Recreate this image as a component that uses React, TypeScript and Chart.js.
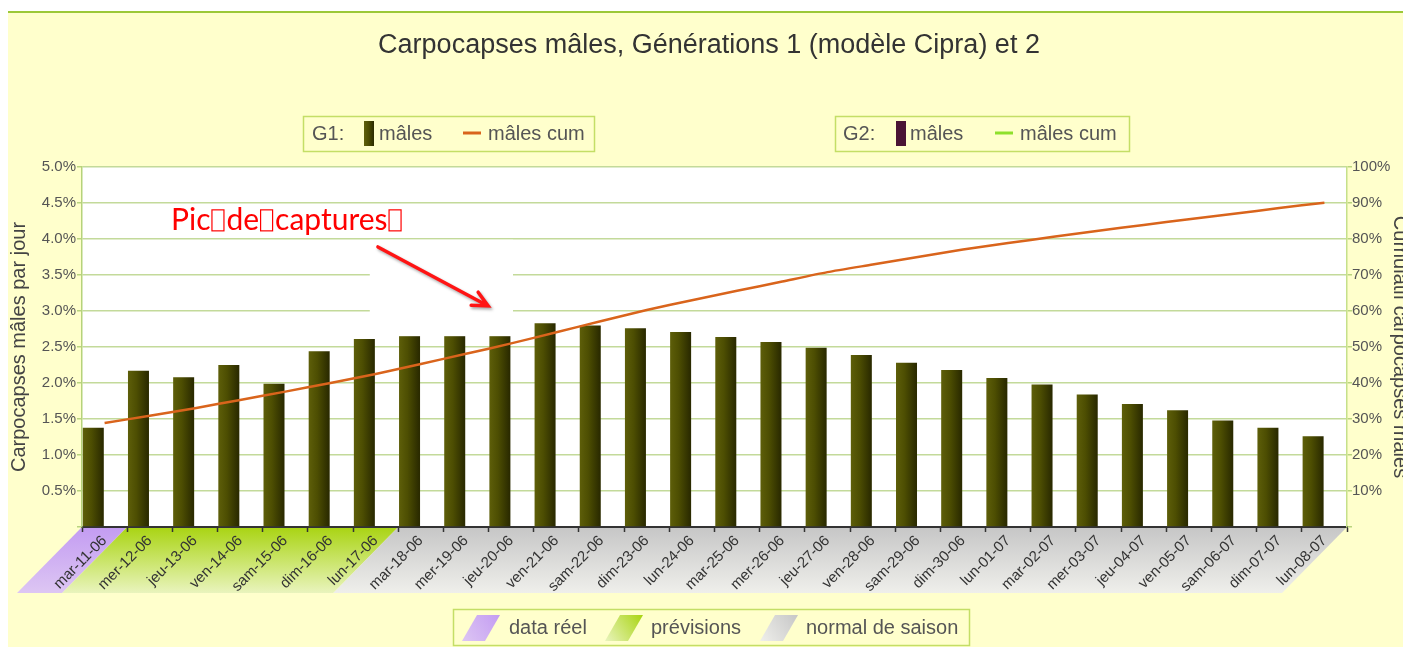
import React, { useEffect, useRef } from 'react';
import { Chart, registerables } from 'chart.js';

Chart.register(...registerables);

const categories = [
  'mar-11-06', 'mer-12-06', 'jeu-13-06', 'ven-14-06', 'sam-15-06', 'dim-16-06', 'lun-17-06',
  'mar-18-06', 'mer-19-06', 'jeu-20-06', 'ven-21-06', 'sam-22-06', 'dim-23-06', 'lun-24-06',
  'mar-25-06', 'mer-26-06', 'jeu-27-06', 'ven-28-06', 'sam-29-06', 'dim-30-06', 'lun-01-07',
  'mar-02-07', 'mer-03-07', 'jeu-04-07', 'ven-05-07', 'sam-06-07', 'dim-07-07', 'lun-08-07',
];

// G1 daily males (% per day)
const g1Males = [
  1.38, 2.17, 2.08, 2.25, 1.99, 2.44, 2.61, 2.70, 2.72, 2.75, 2.83, 2.80, 2.76, 2.71,
  2.64, 2.57, 2.49, 2.39, 2.28, 2.18, 2.07, 1.98, 1.84, 1.71, 1.62, 1.48, 1.38, 1.26,
];

// G1 cumulative males (%)
const g1Cum = [
  28.9, 30.9, 33.0, 35.3, 37.6, 40.0, 42.5, 45.3, 48.1, 51.0, 54.1, 57.2, 60.3, 63.0,
  65.6, 68.2, 70.8, 72.9, 75.0, 77.1, 78.9, 80.6, 82.3, 83.9, 85.5, 87.0, 88.6, 90.1,
];

// G2 has no values yet
const g2Males: (number | null)[] = [];
const g2Cum: (number | null)[] = [];

const leftTickStep = 0.5;
const rightTickStep = 10;

// Period bands under the x axis: label + first category index of each period
const periodLabels = ['data réel', 'prévisions', 'normal de saison'];
const periodStarts = [0, 1, 7];

const title = 'Carpocapses mâles, Générations 1 (modèle Cipra) et 2';
const leftAxisTitle = 'Carpocapses mâles par jour';
const rightAxisTitle = 'Cumulatif carpocapses mâles';

const FONT = '"Liberation Sans", Arial, sans-serif';

const periodColors = [
  ['#c39cf2', '#ddc6f3'],
  ['#a9d412', '#e9f4bd'],
  ['#c6c6c6', '#efefeb'],
];

function olive(ctx: CanvasRenderingContext2D, left: number, right: number) {
  const g = ctx.createLinearGradient(left, 0, right, 0);
  g.addColorStop(0, '#5f600a');
  g.addColorStop(0.45, '#4d4e02');
  g.addColorStop(1, '#2b2b00');
  return g;
}

const decorPlugin = {
  id: 'decor',
  beforeDraw(chart: any) {
    const { ctx, chartArea: ca, scales } = chart;
    const W = chart.width;
    const H = chart.height;
    ctx.save();
    ctx.fillStyle = '#ffffff';
    ctx.fillRect(0, 0, W, H);
    ctx.fillStyle = '#ffffcc';
    ctx.fillRect(8, 13, W - 8, H - 13);
    ctx.fillStyle = '#9cc838';
    ctx.fillRect(8, 11, W - 8, 2);
    ctx.fillStyle = '#ffffff';
    ctx.fillRect(ca.left, ca.top, ca.right - ca.left, ca.bottom - ca.top);

    // period band (slanted)
    const x = scales.x;
    const n = categories.length;
    const cw = (x.right - x.left) / n;
    const edge = (k: number) => x.getPixelForValue(k) - cw / 2;
    const top = ca.bottom;
    const bot = ca.bottom + 66;
    const shift = 65;
    for (let p = 0; p < periodStarts.length; p++) {
      const a = edge(periodStarts[p]);
      const b = p + 1 < periodStarts.length ? edge(periodStarts[p + 1]) : ca.right;
      const g = ctx.createLinearGradient(0, top, 0, bot);
      g.addColorStop(0, periodColors[p][0]);
      g.addColorStop(1, periodColors[p][1]);
      ctx.fillStyle = g;
      ctx.beginPath();
      ctx.moveTo(a, top);
      ctx.lineTo(b, top);
      ctx.lineTo(b - shift, bot);
      ctx.lineTo(a - shift, bot);
      ctx.closePath();
      ctx.fill();
    }
    ctx.restore();
  },
  afterDatasetsDraw(chart: any) {
    const { ctx, scales } = chart;
    const x = scales.x;
    const y = scales.y;
    ctx.save();
    // white mask box
    const bx0 = x.getPixelForValue(5.87);
    const bx1 = x.getPixelForValue(9.04);
    const by0 = y.getPixelForValue(3.99);
    const by1 = y.getPixelForValue(2.65);
    ctx.fillStyle = '#ffffff';
    ctx.fillRect(bx0, by0, bx1 - bx0, by1 - by0);

    // arrow
    const ax0 = x.getPixelForValue(6.05);
    const ay0 = y.getPixelForValue(3.89);
    const ax1 = x.getPixelForValue(8.49);
    const ay1 = y.getPixelForValue(3.07);
    ctx.shadowColor = 'rgba(0,0,0,0.35)';
    ctx.shadowBlur = 3;
    ctx.shadowOffsetX = 1.5;
    ctx.shadowOffsetY = 2;
    ctx.strokeStyle = '#ff1414';
    ctx.lineWidth = 3.5;
    ctx.lineCap = 'round';
    ctx.beginPath();
    ctx.moveTo(ax0, ay0);
    ctx.lineTo(ax1, ay1);
    const ang = Math.atan2(ay1 - ay0, ax1 - ax0);
    const hl = 17;
    ctx.moveTo(ax1 - hl * Math.cos(ang - 0.45), ay1 - hl * Math.sin(ang - 0.45));
    ctx.lineTo(ax1, ay1);
    ctx.lineTo(ax1 - hl * Math.cos(ang + 0.45), ay1 - hl * Math.sin(ang + 0.45));
    ctx.stroke();
    ctx.shadowColor = 'transparent';

    // annotation text
    const tx = x.getPixelForValue(1.47);
    const ty = y.getPixelForValue(4.12);
    ctx.font = '30px Lato, "Noto Sans", sans-serif';
    ctx.fillStyle = '#ff0000';
    ctx.strokeStyle = '#ff0000';
    ctx.lineWidth = 1.2;
    ctx.textBaseline = 'alphabetic';
    ctx.textAlign = 'left';
    const words = ['Pic', 'de', 'captures'];
    let cx = tx;
    for (const w of words) {
      ctx.fillText(w, cx, ty);
      cx += ctx.measureText(w).width + 1;
      ctx.strokeRect(cx + 0.5, ty - 20.5, 12, 21);
      cx += 15;
    }
    ctx.restore();
  },
  afterDraw(chart: any) {
    const { ctx, chartArea: ca } = chart;
    const W = chart.width;
    ctx.save();
    // title
    ctx.fillStyle = '#333333';
    ctx.font = `27px ${FONT}`;
    ctx.textAlign = 'center';
    ctx.textBaseline = 'middle';
    ctx.fillText(title, 709, 46);

    // axis titles
    const cy = (ca.top + ca.bottom) / 2;
    ctx.font = `20px ${FONT}`;
    ctx.fillStyle = '#444444';
    ctx.save();
    ctx.translate(19, cy);
    ctx.rotate(-Math.PI / 2);
    ctx.fillText(leftAxisTitle, 0, 0);
    ctx.restore();
    ctx.save();
    ctx.translate(W - 3, cy);
    ctx.rotate(Math.PI / 2);
    ctx.fillText(rightAxisTitle, 0, 0);
    ctx.restore();

    // top legends
    const drawBox = (x0: number, y0: number, w: number, h: number) => {
      ctx.strokeStyle = '#c4de66';
      ctx.lineWidth = 1.5;
      ctx.strokeRect(x0, y0, w, h);
    };
    ctx.textAlign = 'left';
    ctx.textBaseline = 'middle';
    ctx.font = `20px ${FONT}`;
    ctx.fillStyle = '#555555';
    const ly = 134;
    // G1
    drawBox(303.5, 116.5, 291, 35);
    ctx.fillStyle = '#555555';
    ctx.fillText('G1:', 312, ly);
    ctx.fillStyle = olive(ctx, 364, 374);
    ctx.fillRect(364, 121, 10, 25);
    ctx.fillStyle = '#555555';
    ctx.fillText('mâles', 379, ly);
    ctx.strokeStyle = '#d9641c';
    ctx.lineWidth = 3;
    ctx.beginPath();
    ctx.moveTo(463, 133);
    ctx.lineTo(481, 133);
    ctx.stroke();
    ctx.fillText('mâles cum', 488, ly);
    // G2
    drawBox(835.5, 116.5, 294, 35);
    ctx.fillStyle = '#555555';
    ctx.fillText('G2:', 843, ly);
    ctx.fillStyle = '#4a1434';
    ctx.fillRect(896, 121, 10, 25);
    ctx.fillStyle = '#555555';
    ctx.fillText('mâles', 910, ly);
    ctx.strokeStyle = '#8ee02c';
    ctx.lineWidth = 3;
    ctx.beginPath();
    ctx.moveTo(995, 133);
    ctx.lineTo(1013, 133);
    ctx.stroke();
    ctx.fillText('mâles cum', 1020, ly);

    // bottom legend
    drawBox(453.5, 609.5, 516, 36);
    const sw = [462, 605, 760];
    const tx = [509, 651, 806];
    for (let i = 0; i < periodLabels.length; i++) {
      const g = ctx.createLinearGradient(sw[i] + 38, 615, sw[i], 641);
      g.addColorStop(0, periodColors[i][0]);
      g.addColorStop(1, periodColors[i][1]);
      ctx.fillStyle = g;
      ctx.beginPath();
      ctx.moveTo(sw[i] + 15, 615);
      ctx.lineTo(sw[i] + 38, 615);
      ctx.lineTo(sw[i] + 23, 641);
      ctx.lineTo(sw[i], 641);
      ctx.closePath();
      ctx.fill();
      ctx.fillStyle = '#555555';
      ctx.fillText(periodLabels[i], tx[i], 628);
    }
    ctx.restore();
  },
};

export default function App() {
  const ref = useRef<HTMLCanvasElement>(null);
  useEffect(() => {
    if (!ref.current) return;
    const chart = new Chart(ref.current, {
      type: 'bar',
      data: {
        labels: categories,
        datasets: [
          {
            type: 'line',
            label: 'G1 mâles cum',
            data: g1Cum,
            yAxisID: 'y1',
            borderColor: '#d9641c',
            borderWidth: 2.5,
            pointRadius: 0,
            tension: 0.2,
            order: 0,
          } as any,
          {
            type: 'line',
            label: 'G2 mâles cum',
            data: g2Cum,
            yAxisID: 'y1',
            borderColor: '#8ee02c',
            borderWidth: 2.5,
            pointRadius: 0,
            order: 1,
          } as any,
          {
            type: 'bar',
            label: 'G1 mâles',
            data: g1Males,
            yAxisID: 'y',
            backgroundColor: (c: any) => {
              const ch = c.chart;
              if (!ch.chartArea || c.dataIndex === undefined) return '#4d4e02';
              const xs = ch.scales.x;
              const cw = (xs.right - xs.left) / categories.length;
              const center = xs.getPixelForValue(c.dataIndex);
              return olive(ch.ctx, center - cw / 2, center - cw * 0.04);
            },
            barPercentage: 0.93,
            categoryPercentage: 1.0,
            order: 2,
          },
          {
            type: 'bar',
            label: 'G2 mâles',
            data: g2Males,
            yAxisID: 'y',
            backgroundColor: '#4a1434',
            barPercentage: 0.93,
            categoryPercentage: 1.0,
            order: 3,
          },
        ],
      },
      options: {
        animation: false,
        responsive: false,
        maintainAspectRatio: false,
        layout: { padding: { left: 8, right: 0, top: 167, bottom: 0 } },
        plugins: {
          legend: { display: false },
          title: { display: false },
          tooltip: { enabled: false },
        },
        scales: {
          x: {
            offset: true,
            grid: {
              display: true,
              offset: true,
              drawOnChartArea: false,
              drawTicks: true,
              tickLength: 5,
              tickColor: '#333333',
              tickWidth: 1.5,
            },
            border: { display: true, color: '#333333', width: 2 },
            ticks: {
              autoSkip: false,
              minRotation: 45,
              maxRotation: 45,
              padding: 0,
              color: '#333333',
              font: { family: FONT, size: 15 },
            },
            afterFit: (s: any) => {
              s.height = 120;
            },
          },
          y: {
            position: 'left',
            min: 0,
            max: 5,
            grid: {
              color: '#c3da9a',
              lineWidth: 1.5,
              tickLength: 5,
              tickColor: '#b9d47e',
            },
            border: { display: true, color: '#b6d37a', width: 1.5 },
            ticks: {
              stepSize: leftTickStep,
              padding: 1,
              color: '#555555',
              font: { family: FONT, size: 15 },
              callback: (v: any) => (Number(v) === 0 ? '' : Number(v).toFixed(1) + '%'),
            },
            afterFit: (s: any) => {
              s.width = 74;
            },
          },
          y1: {
            position: 'right',
            min: 0,
            max: 100,
            grid: {
              drawOnChartArea: false,
              tickLength: 5,
              tickColor: '#b9d47e',
              lineWidth: 1.5,
            },
            border: { display: true, color: '#c6e08a', width: 1.5 },
            ticks: {
              stepSize: rightTickStep,
              padding: 0,
              color: '#555555',
              font: { family: FONT, size: 15 },
              callback: (v: any) => (Number(v) === 0 ? '' : v + '%'),
            },
            afterFit: (s: any) => {
              s.width = 56;
            },
          },
        },
      },
      plugins: [decorPlugin],
    });
    return () => chart.destroy();
  }, []);

  return (
    <div style={{ position: 'fixed', left: 0, top: 0, width: 1403, height: 647, overflow: 'hidden' }}>
      <canvas ref={ref} width={1403} height={647} style={{ width: 1403, height: 647, display: 'block' }} />
    </div>
  );
}
